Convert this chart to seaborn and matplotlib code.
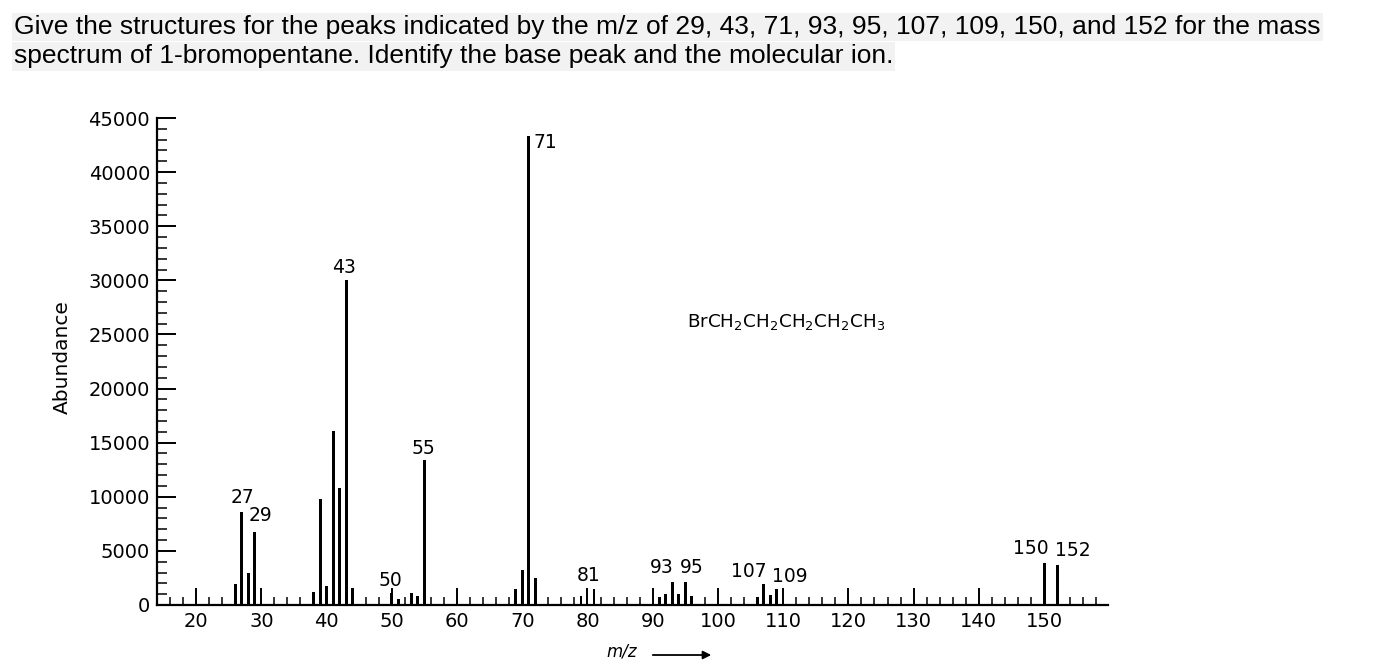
import matplotlib
matplotlib.use('Agg')

import matplotlib.pyplot as plt
import seaborn as sns
import numpy as np
import pandas as pd
from matplotlib.ticker import MultipleLocator

# espectro de masas del 1-bromopentano
mz = [26, 27, 28, 29, 38, 39, 40, 41, 42, 43, 44, 50, 51, 53, 54, 55,
      69, 70, 71, 72, 79, 81, 91, 92, 93, 94, 95, 96,
      106, 107, 108, 109, 150, 152]
abundance = [1900, 8600, 3000, 6750, 1200, 9800, 1750, 16100, 10800, 30000, 1600, 1100, 600, 1100, 800, 13400,
             1500, 3200, 43300, 2500, 800, 1500, 700, 1000, 2100, 1000, 2100, 800,
             700, 1950, 900, 1500, 3900, 3700]

# etiquetas de picos: (texto, m/z, abundancia)
peak_labels = ['27', '29', '43', '50', '55', '81', '93', '95', '107', '109', '150', '152']
label_x = [27.1, 29.8, 42.6, 49.8, 54.9, 80.2, 91.4, 96.0, 104.8, 111.0, 148.0, 154.4]
label_y = [9060, 7400, 30300, 1400, 13600, 1850, 2600, 2600, 2200, 1750, 4350, 4150]

y_ticks = [0, 5000, 10000, 15000, 20000, 25000, 30000, 35000, 40000, 45000]
x_ticks = [20, 30, 40, 50, 60, 70, 80, 90, 100, 110, 120, 130, 140, 150]

question = ["Give the structures for the peaks indicated by the m/z of 29, 43, 71, 93, 95, 107, 109, 150, and 152 for the mass",
            "spectrum of 1-bromopentane. Identify the base peak and the molecular ion."]

df = pd.DataFrame({'mz': mz, 'abundance': abundance})

sns.set_style('white')
plt.rcParams['font.family'] = ['DejaVu Sans']
plt.rcParams['text.color'] = 'black'

fig = plt.figure(figsize=(13.84, 6.68), dpi=100)
ax = fig.add_axes([157 / 1384, 63 / 668, (1108 - 157) / 1384, (605 - 118) / 668])

sns.barplot(data=df, x='mz', y='abundance', native_scale=True, width=0.45,
            color='black', errorbar=None, linewidth=0, ax=ax)

ax.set_xlim(14, 159.8)
ax.set_ylim(0, 45000)
ax.set_xticks(x_ticks)
ax.set_xticklabels([str(t) for t in x_ticks])
ax.set_yticks(y_ticks)
ax.set_yticklabels([str(t) for t in y_ticks])
ax.xaxis.set_minor_locator(MultipleLocator(2))
ax.yaxis.set_minor_locator(MultipleLocator(1000))
ax.tick_params(axis='x', which='major', direction='in', length=12, width=1.4, pad=5,
               labelsize=14, colors='black', bottom=True)
ax.tick_params(axis='x', which='minor', direction='in', length=5.8, width=1.3, bottom=True)
ax.tick_params(axis='y', which='major', direction='in', length=13.5, width=1.4, pad=5,
               labelsize=14, colors='black', left=True)
ax.tick_params(axis='y', which='minor', direction='in', length=7, width=1.3, left=True)
ax.set_xlabel('')
ax.set_ylabel('')
sns.despine(ax=ax)
for s in ['left', 'bottom']:
    ax.spines[s].set_linewidth(1.6)
    ax.spines[s].set_color('black')

# etiquetas de picos
for t, x, y in zip(peak_labels, label_x, label_y):
    ax.text(x, y, t, ha='center', va='bottom', fontsize=13.5)
ax.text(71.7, 43600, '71', ha='left', va='top', fontsize=13.5)

# formula
ax.text(95.3, 26150, r'BrCH$_2$CH$_2$CH$_2$CH$_2$CH$_3$', ha='left', va='center', fontsize=13.2)

# ejes
fig.text(62 / 1384, 1 - 357 / 668, 'Abundance', rotation=90, ha='center', va='center', fontsize=14.5)
fig.text(622 / 1384, 1 - 652 / 668, 'm/z', style='italic', ha='center', va='center', fontsize=12)
ax.annotate('', xy=(714 / 1384, 1 - 655 / 668), xytext=(650 / 1384, 1 - 655 / 668),
            xycoords='figure fraction', textcoords='figure fraction',
            arrowprops=dict(arrowstyle='-|>', color='black', lw=1.3, mutation_scale=12))

# enunciado
for i, line in enumerate(question):
    fig.text(14 / 1384, 1 - (27 + 29.5 * i) / 668, line, ha='left', va='center',
             fontsize=19, family=['Liberation Sans'], color='black',
             bbox=dict(facecolor='#f2f2f2', edgecolor='none', pad=1.5))

plt.savefig('out.png', dpi=100)
plt.close(fig)
